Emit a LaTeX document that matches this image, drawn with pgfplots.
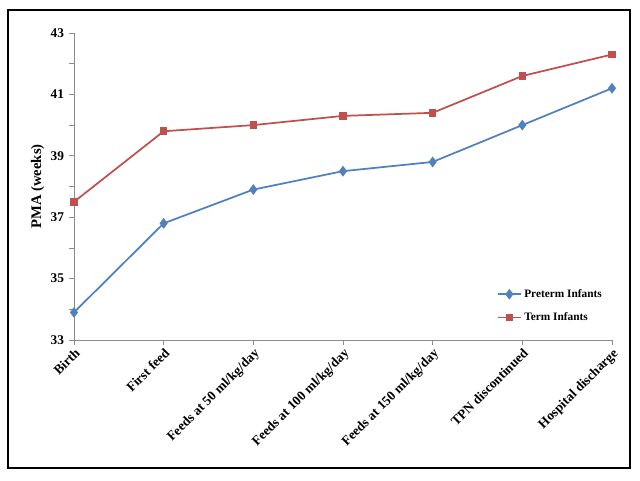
\documentclass[border=0pt]{standalone}
\usepackage{pgfplots}
\pgfplotsset{compat=1.18}
\usepackage{fontspec}
\setmainfont{Liberation Serif}
\definecolor{pblue}{HTML}{4F81BD}
\definecolor{pred}{HTML}{C0504D}
\begin{document}
\begin{tikzpicture}[x=1pt,y=1pt]
\path[fill=white] (0,0) rectangle (480,360);
\draw[line width=0.9pt] (6,9) rectangle (472.5,352.5);
\begin{axis}[
  at={(55.5pt,105pt)}, anchor=south west,
  scale only axis, width=403.5pt, height=230.25pt,
  xmin=0, xmax=6, ymin=33, ymax=43,
  axis x line*=bottom, axis y line*=left,
  axis line style={draw=gray!90, -},
  xtick={0,...,6},
  xticklabels={Birth,First feed,Feeds at 50 ml/kg/day,Feeds at 100 ml/kg/day,Feeds at 150 ml/kg/day,TPN discontinued,Hospital discharge},
  x tick label style={rotate=45, anchor=north east, font=\bfseries\fontsize{10}{11}\selectfont, inner sep=1pt},
  ytick={33,35,...,43},
  minor ytick={34,36,...,42},
  y tick label style={font=\bfseries\fontsize{10}{11}\selectfont},
  /pgf/number format/assume math mode=true,
  tick align=outside,
  major tick length=4pt, minor tick length=4pt,
  tick style={draw=gray!90, line width=0.5pt},
  ylabel={PMA (weeks)},
  ylabel style={font=\bfseries\fontsize{11}{13}\selectfont, yshift=-2pt},
  legend style={at={(0.786,0.175)}, anchor=north west, draw=none, fill=none,
    font=\bfseries\fontsize{8.5}{10}\selectfont, row sep=6pt, inner sep=0pt},
  legend cell align=left,
  clip=false,
]
\addplot[pblue, line width=1.3pt, mark=diamond*, mark size=3pt, mark options={fill=pblue}] coordinates {
(0,33.9) (1,36.8) (2,37.9) (3,38.5) (4,38.8) (5,40.0) (6,41.2)};
\addlegendentry{Preterm Infants}
\addplot[pred, line width=1.3pt, mark=square*, mark size=2.2pt, mark options={fill=pred}] coordinates {
(0,37.5) (1,39.8) (2,40.0) (3,40.3) (4,40.4) (5,41.6) (6,42.3)};
\addlegendentry{Term Infants}
\end{axis}
\end{tikzpicture}
\end{document}
